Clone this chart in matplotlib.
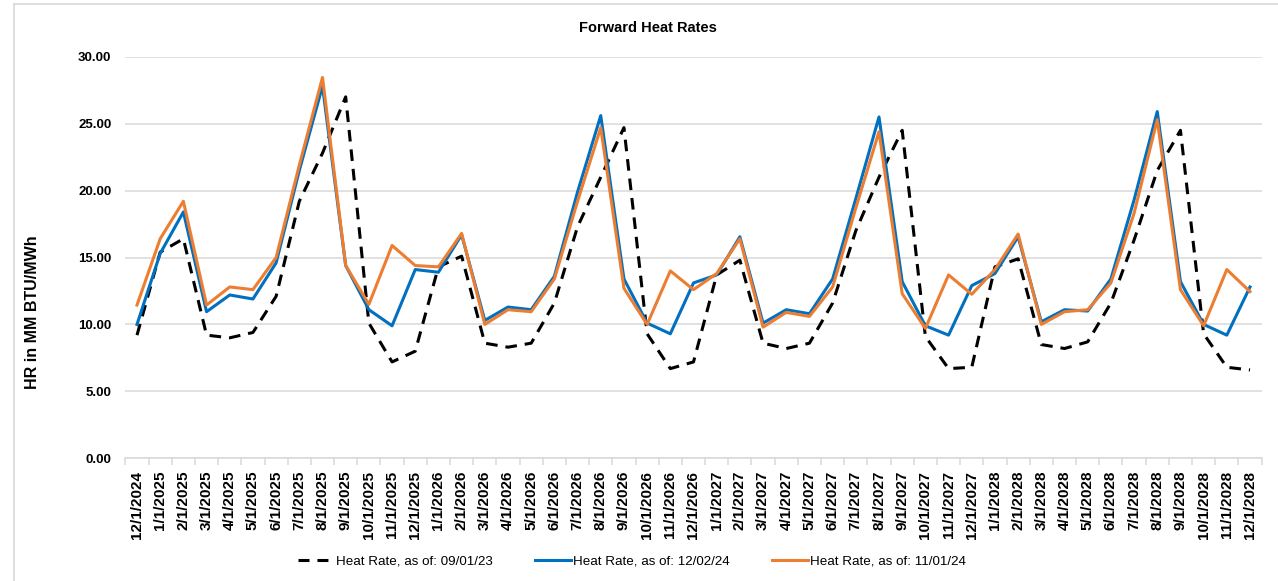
import matplotlib
matplotlib.use("Agg")
import matplotlib.pyplot as plt
from matplotlib.lines import Line2D

# ---- data ----
months = [12] + [m for y in range(4) for m in range(1, 13)]
years = [2024] + [2025 + y for y in range(4) for m in range(1, 13)]
date_labels = [f"{m}/1/{y}" for m, y in zip(months, years)]

hr_090123 = [9.2, 15.4, 16.4, 9.2, 9.0, 9.4, 12.1, 19.2, 22.8, 27.0, 10.1, 7.2, 8.0,
             14.3, 15.1, 8.6, 8.3, 8.6, 11.6, 17.3, 21.0, 24.7, 9.3, 6.7, 7.2,
             13.7, 14.8, 8.6, 8.2, 8.6, 11.6, 17.0, 21.0, 24.5, 9.1, 6.7, 6.8,
             14.3, 14.9, 8.5, 8.2, 8.7, 11.6, 16.3, 21.5, 24.5, 9.3, 6.8, 6.6]
hr_120224 = [10.0, 15.3, 18.4, 10.95, 12.2, 11.9, 14.6, 21.5, 27.8, 14.4, 11.1, 9.9, 14.1,
             13.9, 16.7, 10.3, 11.3, 11.1, 13.6, 19.9, 25.6, 13.4, 10.1, 9.3, 13.1,
             13.7, 16.55, 10.1, 11.1, 10.8, 13.4, 19.4, 25.5, 13.2, 9.9, 9.2, 12.9,
             13.8, 16.55, 10.2, 11.1, 11.0, 13.4, 19.3, 25.9, 13.2, 10.0, 9.2, 12.8]
hr_110124 = [11.45, 16.4, 19.2, 11.45, 12.8, 12.6, 15.0, 21.9, 28.45, 14.4, 11.5, 15.9, 14.4,
             14.3, 16.8, 10.0, 11.1, 10.95, 13.4, 19.2, 24.7, 12.7, 10.0, 14.0, 12.6,
             13.8, 16.4, 9.8, 10.9, 10.6, 12.8, 18.7, 24.4, 12.3, 9.7, 13.7, 12.25,
             14.1, 16.75, 10.0, 10.95, 11.1, 13.1, 18.3, 25.3, 12.6, 9.9, 14.1, 12.45]

series_labels = ["Heat Rate, as of: 09/01/23", "Heat Rate, as of: 12/02/24",
                 "Heat Rate, as of: 11/01/24"]
y_ticks = [0, 5, 10, 15, 20, 25, 30]

# ---- style ----
FONT = ["Liberation Sans", "DejaVu Sans"]
BLUE = "#0070C0"
ORANGE = "#ED7D31"
GRID = "#D9D9D9"

W, H = 1278, 581
fig = plt.figure(figsize=(W / 100, H / 100), dpi=100)
ax = fig.add_axes([125.4 / W, 1 - 458.3 / H, 1136.2 / W, 401.6 / H])

x = list(range(len(date_labels)))
lw = 2.2
ax.plot(x, hr_090123, color="black", lw=lw, dashes=(3.8, 2.6), dash_capstyle="butt",
        zorder=3)
ax.plot(x, hr_120224, color=BLUE, lw=lw, zorder=4)
ax.plot(x, hr_110124, color=ORANGE, lw=lw, zorder=5)

ax.set_xlim(-0.5, len(date_labels) - 0.5)
ax.set_ylim(0, 30)
ax.set_yticks(y_ticks)
ax.set_yticklabels([f"{v:.2f}" for v in y_ticks], fontfamily=FONT, fontsize=9.5,
                   fontweight="bold")
ax.tick_params(axis="y", length=0, pad=10)
ax.yaxis.grid(True, color=GRID, lw=1.1)
ax.set_axisbelow(True)

ax.set_xticks(x)
ax.set_xticklabels(date_labels, rotation=90, fontfamily=FONT, fontsize=11,
                   fontweight="bold")
ax.set_xticks([i - 0.5 for i in range(len(date_labels) + 1)], minor=True)
ax.tick_params(axis="x", which="major", length=0, pad=9)
ax.tick_params(axis="x", which="minor", length=5, color=GRID, width=1.1)

for s in ["left", "right", "top"]:
    ax.spines[s].set_visible(False)
ax.spines["bottom"].set_color(GRID)
ax.spines["bottom"].set_linewidth(1.1)

fig.text(647.5 / W, 1 - 28 / H, "Forward Heat Rates", ha="center", va="center",
         fontfamily=FONT, fontsize=10.5, fontweight="bold")
fig.text(32.5 / W, 1 - 312 / H, "HR in MM BTU/MWh", ha="center", va="center",
         rotation=90, fontfamily=FONT, fontsize=11.5, fontweight="bold")

# chart border
fig.add_artist(Line2D([14 / W, 14 / W], [0, 1 - 4 / H], color=GRID, lw=1.2,
                      transform=fig.transFigure))
fig.add_artist(Line2D([14 / W, 1.0], [1 - 4 / H, 1 - 4 / H], color=GRID, lw=1.2,
                      transform=fig.transFigure))

handles = [Line2D([], [], color="black", lw=lw, dashes=(3.6, 2.6)),
           Line2D([], [], color=BLUE, lw=lw),
           Line2D([], [], color=ORANGE, lw=lw)]
fig.legend(handles, series_labels, loc="center", bbox_to_anchor=(632 / W, 1 - 561 / H),
           ncol=3, frameon=False, handlelength=2.7, handletextpad=0.15,
           columnspacing=3.2, prop={"family": FONT, "size": 9.6})

fig.savefig("out.png", dpi=100)
